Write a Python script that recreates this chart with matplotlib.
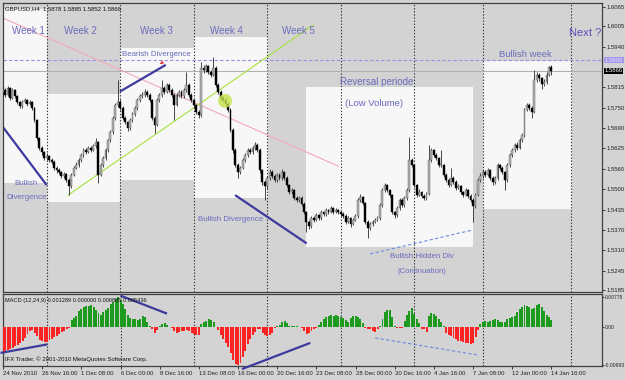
import matplotlib
matplotlib.use("Agg")
import matplotlib.pyplot as plt
from matplotlib.patches import Rectangle, Ellipse
import matplotlib.transforms as mtransforms
import numpy as np

plt.rcParams['font.family'] = ['Liberation Sans', 'DejaVu Sans']

# ---------------- data (GBPUSD H4) ----------------
opens = [1.5800,1.5807,1.5792,1.5813,1.5782,1.5807,1.5788,1.5770,1.5757,1.5770,1.5776,1.5764,1.5770,1.5751,1.5714,1.5658,1.5627,1.5614,
 1.5596,1.5602,1.5589,1.5583,1.5565,1.5558,1.5552,1.5540,1.5546,1.5527,1.5508,1.5543,1.5565,1.5574,1.5589,1.5605,1.5620,1.5614,1.5627,1.5620,1.5633,1.5645,1.5543,1.5574,1.5596,1.5620,1.5651,1.5676,1.5720,1.5760,
 1.5770,1.5751,1.5720,1.5708,1.5689,1.5714,1.5732,1.5751,1.5776,1.5788,1.5792,1.5801,1.5792,1.5776,1.5720,1.5698,1.5776,1.5792,1.5813,1.5801,1.5823,1.5807,1.5792,1.5760,1.5792,1.5801,1.5788,1.5807,1.5823,1.5792,
 1.5776,1.5760,1.5739,1.5729,1.5876,1.5869,1.5882,1.5863,1.5854,1.5876,1.5823,1.5801,1.5782,1.5776,1.5764,1.5745,1.5683,1.5620,1.5574,1.5552,1.5565,1.5589,1.5605,1.5620,1.5614,1.5627,1.5636,1.5620,1.5558,1.5521,
 1.5508,1.5533,1.5552,1.5540,1.5527,1.5543,1.5533,1.5552,1.5533,1.5512,1.5490,1.5496,1.5471,1.5465,1.5471,1.5453,1.5428,1.5397,1.5384,1.5409,1.5403,1.5418,1.5409,1.5428,1.5421,1.5434,1.5428,1.5440,1.5428,1.5434,
 1.5428,1.5421,1.5415,1.5397,1.5409,1.5390,1.5403,1.5415,1.5465,1.5474,1.5456,1.5397,1.5378,1.5390,1.5397,1.5403,1.5409,1.5449,1.5496,1.5512,1.5496,1.5481,1.5428,1.5418,1.5440,1.5465,1.5449,1.5471,1.5496,1.5589,
 1.5574,1.5512,1.5481,1.5490,1.5478,1.5471,1.5484,1.5589,1.5620,1.5605,1.5596,1.5574,1.5574,1.5543,1.5527,1.5512,1.5533,1.5521,1.5502,1.5508,1.5490,1.5481,1.5496,1.5478,1.5465,1.5446,1.5481,1.5527,
 1.5540,1.5552,1.5543,1.5558,1.5533,1.5521,1.5533,1.5574,1.5565,1.5552,1.5527,1.5574,1.5605,1.5620,1.5636,1.5627,1.5651,1.5667,1.5745,1.5760,1.5751,1.5739,1.5838,1.5854,1.5844,1.5826,1.5832,1.5854,1.5878]

closes = [1.5807,1.5792,1.5813,1.5782,1.5807,1.5788,1.5770,1.5757,1.5770,1.5776,1.5764,1.5770,1.5751,1.5714,1.5658,1.5627,1.5614,1.5596,
 1.5602,1.5589,1.5583,1.5565,1.5558,1.5552,1.5540,1.5546,1.5527,1.5508,1.5543,1.5565,1.5574,1.5589,1.5605,1.5620,1.5614,1.5627,1.5620,1.5633,1.5645,1.5543,1.5574,1.5596,1.5620,1.5651,1.5676,1.5720,1.5760,1.5770,
 1.5751,1.5720,1.5708,1.5689,1.5714,1.5732,1.5751,1.5776,1.5788,1.5792,1.5801,1.5792,1.5776,1.5720,1.5698,1.5776,1.5792,1.5813,1.5801,1.5823,1.5807,1.5792,1.5760,1.5792,1.5801,1.5788,1.5807,1.5823,1.5792,1.5776,
 1.5760,1.5739,1.5729,1.5876,1.5869,1.5882,1.5863,1.5854,1.5876,1.5823,1.5801,1.5782,1.5776,1.5764,1.5745,1.5683,1.5620,1.5574,1.5552,1.5565,1.5589,1.5605,1.5620,1.5614,1.5627,1.5636,1.5620,1.5558,1.5521,1.5508,
 1.5533,1.5552,1.5540,1.5527,1.5543,1.5533,1.5552,1.5533,1.5512,1.5490,1.5496,1.5471,1.5465,1.5471,1.5453,1.5428,1.5397,1.5384,1.5409,1.5403,1.5418,1.5409,1.5428,1.5421,1.5434,1.5428,1.5440,1.5428,1.5434,1.5428,
 1.5421,1.5415,1.5397,1.5409,1.5390,1.5403,1.5415,1.5465,1.5474,1.5456,1.5397,1.5378,1.5390,1.5397,1.5403,1.5409,1.5449,1.5496,1.5512,1.5496,1.5481,1.5428,1.5418,1.5440,1.5465,1.5449,1.5471,1.5496,1.5589,1.5574,
 1.5512,1.5481,1.5490,1.5478,1.5471,1.5484,1.5589,1.5620,1.5605,1.5596,1.5574,1.5574,1.5543,1.5527,1.5512,1.5533,1.5521,1.5502,1.5508,1.5490,1.5481,1.5496,1.5478,1.5465,1.5446,1.5481,1.5527,1.5540,
 1.5552,1.5543,1.5558,1.5533,1.5521,1.5533,1.5574,1.5565,1.5552,1.5527,1.5574,1.5605,1.5620,1.5636,1.5627,1.5651,1.5667,1.5745,1.5760,1.5751,1.5739,1.5838,1.5854,1.5844,1.5826,1.5832,1.5854,1.5878,1.5866]

highs = [1.5815,1.5812,1.5818,1.5816,1.5812,1.5810,1.5792,1.5774,1.5776,1.5782,1.5780,1.5777,1.5773,1.5755,1.5718,1.5662,1.5632,1.5618,
 1.5610,1.5606,1.5594,1.5588,1.5570,1.5563,1.5556,1.5552,1.5550,1.5532,1.5548,1.5570,1.5582,1.5594,1.5612,1.5626,1.5628,1.5634,1.5632,1.5638,1.5658,1.5648,1.5580,1.5602,1.5626,1.5656,1.5682,1.5726,1.5766,1.5838,
 1.5778,1.5756,1.5726,1.5712,1.5720,1.5738,1.5758,1.5782,1.5794,1.5800,1.5810,1.5806,1.5797,1.5780,1.5726,1.5782,1.5798,1.5838,1.5818,1.5830,1.5828,1.5812,1.5796,1.5798,1.5808,1.5806,1.5812,1.5863,1.5828,1.5796,
 1.5780,1.5764,1.5745,1.5894,1.5884,1.5888,1.5886,1.5868,1.5910,1.5880,1.5828,1.5806,1.5788,1.5782,1.5768,1.5750,1.5688,1.5626,1.5580,1.5572,1.5596,1.5612,1.5628,1.5626,1.5634,1.5645,1.5642,1.5625,1.5562,1.5526,
 1.5540,1.5560,1.5558,1.5545,1.5550,1.5548,1.5560,1.5556,1.5538,1.5516,1.5503,1.5500,1.5478,1.5478,1.5476,1.5458,1.5432,1.5402,1.5415,1.5415,1.5425,1.5422,1.5434,1.5432,1.5440,1.5438,1.5446,1.5444,1.5440,1.5438,
 1.5432,1.5426,1.5420,1.5414,1.5412,1.5408,1.5420,1.5470,1.5482,1.5478,1.5460,1.5402,1.5396,1.5403,1.5408,1.5414,1.5455,1.5502,1.5518,1.5516,1.5500,1.5485,1.5432,1.5446,1.5470,1.5470,1.5478,1.5502,1.5661,1.5596,
 1.5578,1.5516,1.5498,1.5494,1.5483,1.5490,1.5636,1.5626,1.5624,1.5610,1.5600,1.5620,1.5578,1.5548,1.5532,1.5565,1.5538,1.5526,1.5514,1.5512,1.5494,1.5502,1.5500,1.5482,1.5470,1.5486,1.5532,1.5550,
 1.5560,1.5558,1.5564,1.5562,1.5538,1.5540,1.5580,1.5578,1.5570,1.5556,1.5580,1.5610,1.5626,1.5642,1.5645,1.5658,1.5674,1.5752,1.5766,1.5766,1.5756,1.5870,1.5862,1.5860,1.5848,1.5840,1.5862,1.5882,1.5885]

lows = [1.5795,1.5786,1.5788,1.5776,1.5778,1.5783,1.5764,1.5750,1.5752,1.5766,1.5758,1.5760,1.5745,1.5708,1.5650,1.5620,1.5606,1.5588,
 1.5590,1.5582,1.5576,1.5558,1.5550,1.5545,1.5532,1.5534,1.5520,1.5481,1.5503,1.5538,1.5560,1.5568,1.5584,1.5600,1.5608,1.5610,1.5614,1.5616,1.5628,1.5518,1.5538,1.5568,1.5590,1.5614,1.5645,1.5670,1.5714,1.5754,
 1.5745,1.5714,1.5700,1.5680,1.5684,1.5708,1.5726,1.5746,1.5770,1.5782,1.5786,1.5786,1.5770,1.5714,1.5673,1.5694,1.5770,1.5786,1.5795,1.5796,1.5800,1.5786,1.5714,1.5756,1.5786,1.5782,1.5782,1.5800,1.5786,1.5770,
 1.5752,1.5732,1.5720,1.5724,1.5860,1.5862,1.5856,1.5848,1.5850,1.5816,1.5794,1.5776,1.5770,1.5756,1.5738,1.5676,1.5612,1.5566,1.5533,1.5546,1.5560,1.5584,1.5600,1.5608,1.5608,1.5620,1.5614,1.5550,1.5512,1.5465,
 1.5500,1.5528,1.5534,1.5520,1.5522,1.5526,1.5528,1.5526,1.5506,1.5484,1.5484,1.5465,1.5458,1.5460,1.5446,1.5420,1.5365,1.5375,1.5378,1.5396,1.5398,1.5402,1.5404,1.5414,1.5416,1.5422,1.5424,1.5422,1.5424,1.5422,
 1.5414,1.5408,1.5390,1.5392,1.5382,1.5386,1.5398,1.5410,1.5460,1.5450,1.5390,1.5347,1.5372,1.5385,1.5392,1.5398,1.5404,1.5444,1.5490,1.5490,1.5474,1.5420,1.5410,1.5412,1.5434,1.5442,1.5444,1.5466,1.5490,1.5566,
 1.5505,1.5474,1.5476,1.5472,1.5464,1.5466,1.5480,1.5584,1.5598,1.5590,1.5568,1.5566,1.5536,1.5520,1.5506,1.5508,1.5514,1.5496,1.5498,1.5484,1.5474,1.5476,1.5472,1.5458,1.5397,1.5440,1.5476,1.5520,
 1.5534,1.5536,1.5538,1.5526,1.5510,1.5516,1.5528,1.5558,1.5546,1.5496,1.5522,1.5568,1.5600,1.5614,1.5620,1.5622,1.5646,1.5662,1.5740,1.5745,1.5720,1.5734,1.5832,1.5836,1.5810,1.5818,1.5826,1.5850,1.5852]

macd = [-0.0065,-0.0063,-0.0060,-0.0057,-0.0053,-0.0050,-0.0046,-0.0042,-0.0036,-0.0028,-0.0018,-0.0010,-0.0008,-0.0014,-0.0024,-0.0033,-0.0037,-0.0039,
 -0.0038,-0.0034,-0.0030,-0.0026,-0.0022,-0.0017,-0.0012,-0.0009,-0.0006,-0.0003,0.0018,0.0024,0.0030,0.0043,0.0048,0.0053,0.0055,0.0056,0.0057,0.0052,0.0045,0.0036,0.0032,0.0038,0.0045,0.0050,0.0060,0.0066,0.0072,0.0078,
 0.0070,0.0060,0.0046,0.0032,0.0024,0.0020,0.0021,0.0019,0.0022,0.0028,0.0026,0.0014,0.0004,-0.0006,-0.0014,-0.0008,0.0002,0.0008,0.0011,0.0006,0.0001,-0.0002,-0.0010,-0.0014,-0.0012,-0.0010,-0.0009,-0.0008,-0.0010,-0.0014,
 -0.0018,-0.0021,-0.0020,0.0008,0.0013,0.0017,0.0020,0.0018,0.0012,0.0001,-0.0008,-0.0020,-0.0030,-0.0040,-0.0052,-0.0068,-0.0085,-0.0097,-0.0099,-0.0092,-0.0078,-0.0062,-0.0045,-0.0030,-0.0020,-0.0012,-0.0006,-0.0004,-0.0014,-0.0020,
 -0.0022,-0.0020,-0.0014,-0.0002,0.0002,0.0006,0.0014,0.0016,0.0010,0.0004,0.0003,0.0002,0.0003,0.0001,-0.0003,-0.0010,-0.0018,-0.0016,-0.0010,-0.0006,-0.0002,0.0005,0.0014,0.0020,0.0025,0.0029,0.0031,0.0030,0.0031,0.0030,
 0.0026,0.0024,0.0018,0.0014,0.0024,0.0029,0.0030,0.0027,0.0020,0.0010,-0.0002,-0.0004,-0.0006,-0.0010,-0.0012,-0.0004,0.0004,0.0022,0.0040,0.0045,0.0044,0.0025,0.0004,-0.0003,-0.0003,-0.0002,0.0016,0.0032,0.0042,0.0050,
 0.0035,0.0020,0.0010,-0.0004,-0.0006,-0.0012,0.0030,0.0036,0.0034,0.0028,0.0021,0.0012,0.0004,-0.0015,-0.0020,-0.0024,-0.0028,-0.0032,-0.0035,-0.0037,-0.0039,-0.0040,-0.0042,-0.0045,-0.0040,-0.0025,-0.0008,0.0008,
 0.0012,0.0015,0.0013,0.0016,0.0019,0.0020,0.0018,0.0014,0.0012,0.0013,0.0020,0.0024,0.0027,0.0030,0.0038,0.0046,0.0052,0.0057,0.0055,0.0052,0.0046,0.0050,0.0058,0.0060,0.0052,0.0042,0.0032,0.0026,0.0019]

time_labels = ["24 Nov 2010", "26 Nov 16:00", "1 Dec 08:00", "6 Dec 00:00", "8 Dec 16:00",
               "13 Dec 08:00", "16 Dec 00:00", "20 Dec 16:00", "23 Dec 08:00", "28 Dec 00:00",
               "30 Dec 16:00", "4 Jan 16:00", "7 Jan 08:00", "12 Jan 00:00", "14 Jan 16:00"]
time_label_bars = [0, 16, 32, 48, 64, 80, 96, 112, 128, 144, 160, 176, 192, 208, 224]
price_ticks = [1.6065, 1.6005, 1.5940, 1.5815, 1.5750, 1.5690, 1.5625, 1.5560,
               1.5500, 1.5435, 1.5370, 1.5310, 1.5245, 1.5185]
macd_ticks = [0.00778, 0.0, -0.00993]
macd_tick_labels = ["0.00778", "0.00", "-0.00993"]
week_separators = [18, 48, 78, 108, 138, 168, 196, 232]

# weekly range boxes: (bar start, bar end, price low, price high)
week_boxes = [(-2, 18, 1.5518, 1.6059), (18, 48, 1.5459, 1.5794), (48, 78, 1.5527, 1.5937),
              (78, 108.3, 1.5471, 1.5972), (123.8, 192, 1.5320, 1.5816), (196.1, 232.3, 1.5436, 1.5897)]
level_line = 1.5900
bid_price = 1.5866

# trend lines: ((bar, price), (bar, price))
pink_line = ((0.0, 1.6031), (137.0, 1.5570))
green_line = ((26.7, 1.5480), (126.7, 1.6009))
navy_lines = [((-0.5, 1.5698), (18.0, 1.5511)), ((47.9, 1.5802), (66.6, 1.5885)),
              ((94.9, 1.5480), (124.1, 1.5330))]
hidden_div_line = ((150.0, 1.5297), (191.5, 1.5371))
macd_navy_lines = [((-1.0, -0.0067), (18.0, -0.0045)), ((47.9, 0.0082), (67.0, 0.0035)),
                   ((97.6, -0.0109), (125.5, -0.0041))]
macd_dashed_line = ((152.0, -0.0028), (193.5, -0.0072))

week_texts = [("Week 1", 10.6), ("Week 2", 31.6), ("Week 3", 62.9), ("Week 4", 91.5), ("Week 5", 120.6)]
week_text_price = 1.5990

# ---------------- style ----------------
GRAY = '#d3d3d3'
WHITE = '#f7f7f7'
TXT = '#6b6bbd'
NAVY = '#3d3a9e'

W, H = 625, 380
fig = plt.figure(figsize=(W / 100, H / 100), dpi=100)
fig.patch.set_facecolor(GRAY)

ax = fig.add_axes([3 / W, 1 - 292 / H, 599 / W, 289 / H])
mx = fig.add_axes([3 / W, 1 - 366 / H, 599 / W, 72 / H])

o = np.array(opens); c = np.array(closes); hi = np.array(highs); lo = np.array(lows)
n = len(c)
idx = np.arange(n)
xlim = (0.16, 244.65)

for a in (ax, mx):
    a.set_facecolor(GRAY)
    a.set_xlim(*xlim)
    for s in a.spines.values():
        s.set_color('#404040')
        s.set_linewidth(0.9)
    for s in week_separators:
        a.axvline(s, color='#333333', ls=(0, (1.2, 1.6)), lw=0.8, zorder=1)

ax.set_ylim(1.51787, 1.60774)
mx.set_ylim(-0.0101, 0.0086)

for (x0, x1, p0, p1) in week_boxes:
    ax.add_patch(Rectangle((x0, p0), x1 - x0, p1 - p0, facecolor=WHITE, edgecolor='none', zorder=0.5))

ax.axhline(bid_price, color='#b0b0b0', lw=0.8, zorder=1.2)
ax.axhline(level_line, color='#9c8ce6', lw=0.8, ls=(0, (3, 2)), zorder=1.3)

# trend lines
ax.plot(*zip(*pink_line), color='#f3a9bb', lw=0.8, zorder=1.5)
ax.plot(*zip(*green_line), color='#a9e23e', lw=0.8, zorder=1.5)
for ln in navy_lines:
    ax.plot(*zip(*ln), color=NAVY, lw=1.6, zorder=2, solid_capstyle='butt')
ax.plot(*zip(*hidden_div_line), color='#6d8be0', lw=0.8, ls=(0, (3, 2)), zorder=2)
ax.annotate('', xy=(63.4, 1.5882), xytext=(65.6, 1.5895),
            arrowprops=dict(arrowstyle='->', color='#e02020', lw=0.8, mutation_scale=4), zorder=3)

# candles
up = c >= o
body_lo = np.minimum(o, c)
body_h = np.maximum(np.abs(c - o), 0.00015)
ax.vlines(idx, lo, hi, color='#2a2a2a', lw=0.6, zorder=3)
ax.bar(idx[up], body_h[up], bottom=body_lo[up], width=0.75, color='#b2b2b2',
       edgecolor='#5a5a5a', linewidth=0.3, zorder=3.2)
ax.bar(idx[~up], body_h[~up], bottom=body_lo[~up], width=0.75, color='#000000',
       edgecolor='#000000', linewidth=0.3, zorder=3.2)

ax.add_patch(Ellipse((90.8, 1.5773), 5.7, 0.00435, facecolor='#c6e24a', edgecolor='none',
                     alpha=0.8, zorder=4))

# texts in main panel
for t, xb in week_texts:
    ax.text(xb, week_text_price, t, color=TXT, fontsize=7, ha='center', va='center', zorder=5)
ax.text(62.6, 1.5918, "Bearish Divergence", color=TXT, fontsize=5.7, ha='center', va='center', zorder=5)
ax.text(237.9, 1.5985, "Next ?", color='#5b50bd', fontsize=8, ha='center', va='center', zorder=5)
ax.text(213.2, 1.5916, "Bullish week", color=TXT, fontsize=6.8, ha='center', va='center', zorder=5)
ax.text(152.8, 1.5833, "Reversal periode", color=TXT, fontsize=7, ha='center', va='center', zorder=5)
ax.text(151.6, 1.5766, "(Low Volume)", color=TXT, fontsize=6.8, ha='center', va='center', zorder=5)
ax.text(9.6, 1.5515, "Bullish", color=TXT, fontsize=5.8, ha='center', va='center', zorder=5)
ax.text(9.6, 1.5474, "Divergence", color=TXT, fontsize=5.8, ha='center', va='center', zorder=5)
ax.text(92.9, 1.5403, "Bullish Divergence", color=TXT, fontsize=5.7, ha='center', va='center', zorder=5)
ax.text(171.2, 1.5288, "Bullish Hidden Div", color=TXT, fontsize=5.7, ha='center', va='center', zorder=5)
ax.text(171.0, 1.5244, "(Continuation)", color=TXT, fontsize=5.6, ha='center', va='center', zorder=5)

ax.text(0.004, 0.988, "GBPUSD,H4  1.5878 1.5885 1.5852 1.5866", transform=ax.transAxes,
        fontsize=4.3, ha='left', va='top', color='#111111', zorder=6)

# price axis
ax.yaxis.tick_right()
ax.set_yticks(price_ticks)
ax.set_yticklabels([f"{p:.4f}" for p in price_ticks])
ax.tick_params(axis='y', direction='out', length=2, width=0.6, labelsize=4.3, pad=1.5,
               colors='#222222')
ax.set_xticks([])
bt = mtransforms.blended_transform_factory(ax.transAxes, ax.transData)
ax.text(1.004, level_line, f"{level_line:.4f}", transform=bt, fontsize=4.3, color='#ece8ff',
        va='center', ha='left', zorder=7,
        bbox=dict(boxstyle='square,pad=0.15', facecolor='#a294e8', edgecolor='none'), clip_on=False)
ax.text(1.004, bid_price, f"{bid_price:.4f}", transform=bt, fontsize=4.3, color='white',
        va='center', ha='left', zorder=7,
        bbox=dict(boxstyle='square,pad=0.15', facecolor='black', edgecolor='none'), clip_on=False)

# MACD panel
m = np.array(macd)
mx.bar(idx[m >= 0], m[m >= 0], width=0.8, color='#1e9a1e', edgecolor='none', zorder=3)
mx.bar(idx[m < 0], m[m < 0], width=0.8, color='#ff2222', edgecolor='none', zorder=3)
for ln in macd_navy_lines:
    mx.plot(*zip(*ln), color=NAVY, lw=1.6, zorder=4, clip_on=False, solid_capstyle='butt')
mx.plot(*zip(*macd_dashed_line), color='#6d8be0', lw=0.8, ls=(0, (3, 2)), zorder=4)

mx.text(0.004, 0.94, "MACD (12,24,9) 0.001289 0.000000 0.006885 0.005436", transform=mx.transAxes,
        fontsize=4.1, ha='left', va='top', color='#111111', zorder=6)
mx.text(0.004, 0.05, "IFX Trader, \u00a9 2001-2010 MetaQuotes Software Corp.", transform=mx.transAxes,
        fontsize=4.3, ha='left', va='bottom', color='#111111', zorder=6)

mx.yaxis.tick_right()
mx.set_yticks(macd_ticks)
mx.set_yticklabels(macd_tick_labels)
mx.tick_params(axis='y', direction='out', length=1.5, width=0.6, labelsize=3.6, pad=0.8,
               colors='#222222')
mx.set_xticks(time_label_bars)
mx.set_xticklabels(time_labels, ha='left')
mx.tick_params(axis='x', direction='out', length=2.5, width=0.6, labelsize=4.3, pad=1.2,
               colors='#222222')

fig.savefig("out.png", dpi=100, facecolor=fig.get_facecolor())
